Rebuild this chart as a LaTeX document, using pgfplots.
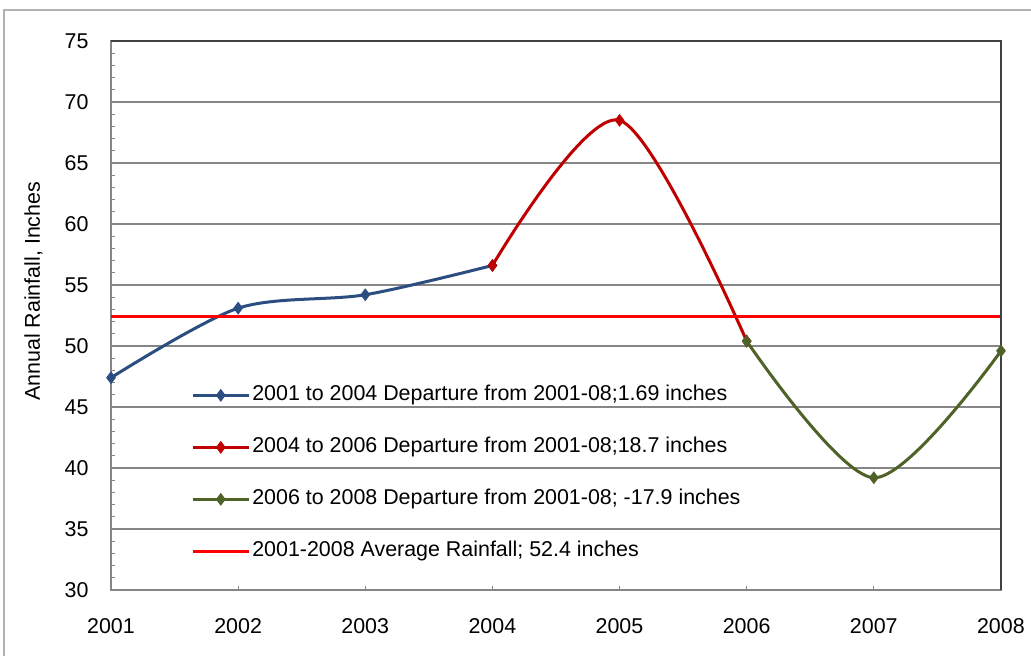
\documentclass[border=0pt]{standalone}
\usepackage{pgfplots}
\pgfplotsset{compat=1.18}
\usepackage{fontspec}
\setmainfont{Liberation Sans}
\definecolor{sblue}{RGB}{44,77,128}
\definecolor{sred}{RGB}{192,0,0}
\definecolor{sgreen}{RGB}{79,98,40}
\definecolor{avgred}{RGB}{255,0,0}
\definecolor{gridgray}{RGB}{134,134,134}
\begin{document}
\begin{tikzpicture}
\fill[white] (-111bp,-66bp) rectangle (920bp,590bp);
\begin{axis}[
  at={(0,0)}, anchor=south west,
  scale only axis, width=890bp, height=549bp,
  xmin=2001, xmax=2008, ymin=30, ymax=75,
  xtick={2001,...,2008}, ytick={30,35,...,75},
  minor x tick num=4, minor y tick num=4,
  xtick pos=left, ytick pos=left,
  tick align=inside,
  major tick length=4bp, minor tick length=4bp,
  every tick/.style={gridgray, line width=1bp},
  x tick label style={/pgf/number format/1000 sep={}, yshift=-25bp},
  y tick label style={xshift=-19bp},
  /pgf/number format/assume math mode=true,
  ticklabel style={font=\fontsize{21.5}{25}\selectfont},
  ymajorgrids,
  grid style={gridgray, line width=1.3bp},
  axis line style={gridgray, line width=1.3bp},
  every axis y label/.style={at={(axis description cs:-0.087,0.544)}, rotate=90, anchor=center},
  ylabel={Annual Rainfall, Inches},
  label style={font=\fontsize{21.5}{25}\selectfont},
  legend cell align=left,
  legend style={draw=none, fill=none, at={(rel axis cs:0.09,0.375)}, anchor=north west,
    font=\fontsize{21.5}{25}\selectfont, row sep=30bp, inner sep=0pt,
    nodes={inner sep=2bp, text height=14bp, text depth=4bp}},
  legend image code/.code={\draw[mark repeat=2,mark phase=2,#1] plot coordinates {(0bp,0bp) (28bp,0bp) (56bp,0bp)};},
  clip=false,
]
\addplot[sblue, line width=3bp, smooth, mark=diamond*, mark size=4bp] coordinates {
  (2001,47.4) (2002,53.1) (2003,54.2) (2004,56.6)};
\addlegendentry{2001 to 2004 Departure from 2001-08;1.69 inches}
\addplot[sred, line width=3bp, smooth, mark=diamond*, mark size=4bp] coordinates {
  (2004,56.6) (2005,68.5) (2006,50.4)};
\addlegendentry{2004 to 2006 Departure from 2001-08;18.7 inches}
\addplot[sgreen, line width=3bp, smooth, mark=diamond*, mark size=4bp] coordinates {
  (2006,50.4) (2007,39.2) (2008,49.6)};
\addlegendentry{2006 to 2008 Departure from 2001-08; -17.9 inches}
\addplot[avgred, line width=3bp] coordinates {(2001,52.4) (2008,52.4)};
\addlegendentry{2001-2008 Average Rainfall; 52.4 inches}
\draw[black!75, line width=1.6bp] (rel axis cs:0,1) -- (rel axis cs:1,1) -- (rel axis cs:1,0);
\end{axis}
\draw[gray!60, line width=1.2bp] (-107bp,-70bp) -- (-107bp,580bp) -- (930bp,580bp);
\pgfresetboundingbox
\useasboundingbox (-111bp,-66bp) rectangle (920bp,590bp);
\end{tikzpicture}
\end{document}
